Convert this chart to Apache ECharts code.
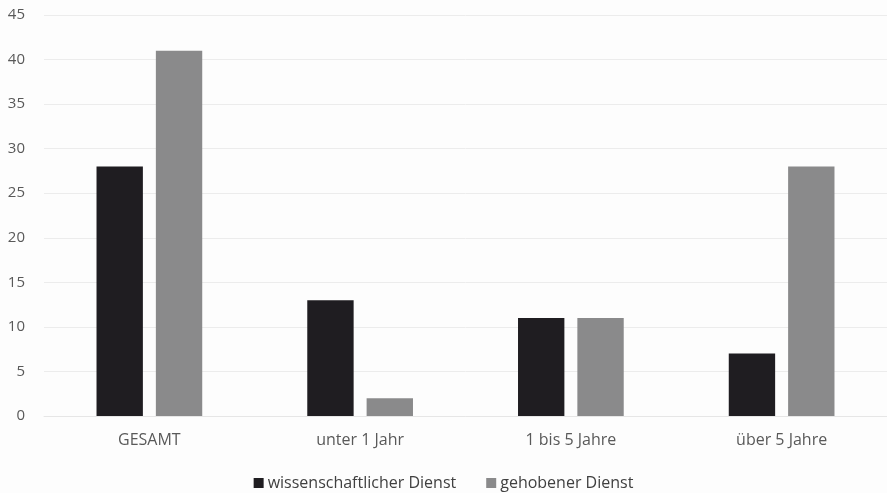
<!DOCTYPE html>
<html><head><meta charset="utf-8">
<script src="https://cdn.jsdelivr.net/npm/echarts@6/dist/echarts.min.js"></script>
<style>html,body{margin:0;padding:0;background:#fdfdfd;}#c{width:887px;height:493px;}</style>
</head><body><div id="c"></div>
<script>
const categories = ['GESAMT', 'unter 1 Jahr', '1 bis 5 Jahre', 'über 5 Jahre'];
const seriesNames = ['wissenschaftlicher Dienst', 'gehobener Dienst'];
const wissenschaftlich = [28, 13, 11, 7];
const gehoben = [41, 2, 11, 28];

const chart = echarts.init(document.getElementById('c'), null, {renderer: 'canvas'});
const font = '"Open Sans", "Liberation Sans", sans-serif';
chart.setOption({
  backgroundColor: '#fdfdfd',
  animation: false,
  grid: {left: 44, right: 0, top: 15, bottom: 77},
  legend: {
    top: 475, left: 'center', itemWidth: 10, itemHeight: 10, itemGap: 30,
    icon: 'rect', padding: 0,
    textStyle: {color: '#404040', fontSize: 16, fontFamily: font, padding: [0, 0, 0, -1]},
    data: seriesNames
  },
  xAxis: {
    type: 'category', data: categories,
    axisLine: {lineStyle: {color: '#e6e6e6'}},
    axisTick: {show: false},
    axisLabel: {color: '#595959', fontSize: 16, fontFamily: font, margin: 16}
  },
  yAxis: {
    type: 'value', min: 0, max: 45, interval: 5,
    axisLine: {show: false}, axisTick: {show: false},
    splitLine: {lineStyle: {color: '#ececec'}},
    axisLabel: {color: '#595959', fontSize: 15, fontFamily: font, margin: 19}
  },
  series: [
    {name: seriesNames[0], type: 'bar', data: wissenschaftlich, barWidth: '22%', barGap: '28%',
     itemStyle: {color: '#1f1d21'}},
    {name: seriesNames[1], type: 'bar', data: gehoben, barWidth: '22%',
     itemStyle: {color: '#8a8a8b'}}
  ]
});
</script></body></html>
